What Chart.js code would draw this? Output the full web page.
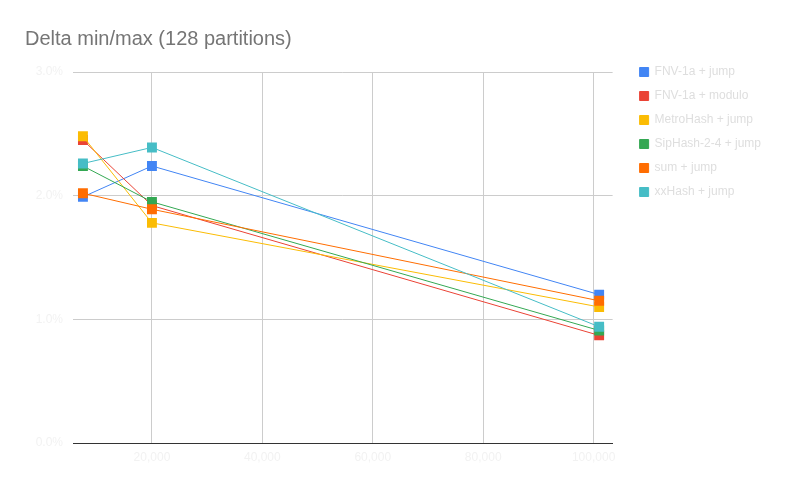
<!DOCTYPE html>
<html>
<head>
<meta charset="utf-8">
<title>Delta min/max (128 partitions)</title>
<script src="https://cdn.jsdelivr.net/npm/chart.js@4"></script>
<style>
  html, body { margin: 0; padding: 0; background: #fff; }
  #wrap { width: 790px; height: 488px; }
</style>
</head>
<body>
<div id="wrap"><canvas id="delta"></canvas></div>
<script>
const partitions = [7500, 20000, 101000];
const xTicks = [20000, 40000, 60000, 80000, 100000];
const yTicks = [0, 1, 2, 3];

const fnvJump   = [1.99, 2.24, 1.20];
const fnvModulo = [2.45, 1.92, 0.87];
const metroJump = [2.48, 1.78, 1.10];
const sipJump   = [2.24, 1.95, 0.91];
const sumJump   = [2.02, 1.89, 1.15];
const xxJump    = [2.26, 2.39, 0.94];

const seriesNames  = ['FNV-1a + jump', 'FNV-1a + modulo', 'MetroHash + jump', 'SipHash-2-4 + jump', 'sum + jump', 'xxHash + jump'];
const seriesValues = [fnvJump, fnvModulo, metroJump, sipJump, sumJump, xxJump];
const seriesColors = ['#4285f4', '#ea4335', '#fbbc04', '#34a853', '#ff6d01', '#46bdc6'];

const font = "'Liberation Sans', Arial, sans-serif";

// move the legend next to the plot like the sheets chart does
const legendShift = {
  id: 'legendShift',
  afterLayout(chart) {
    const lg = chart.legend;
    lg.left = chart.chartArea.right + 15;
    lg.top = chart.chartArea.top - 18;
    lg.right = chart.width;
    lg.bottom = chart.height;
  }
};

const datasets = seriesNames.map((name, i) => ({
  label: name,
  data: partitions.map((x, j) => ({ x: x, y: seriesValues[i][j] })),
  borderColor: seriesColors[i],
  backgroundColor: seriesColors[i],
  borderWidth: 1,
  pointStyle: 'rect',
  pointRadius: 7,
  pointBorderWidth: 0,
  order: -i
}));

new Chart(document.getElementById('delta'), {
  type: 'line',
  data: { datasets: datasets },
  options: {
    responsive: true,
    maintainAspectRatio: false,
    animation: false,
    layout: { padding: { left: 25, right: 34, top: 0, bottom: 0 } },
    plugins: {
      title: {
        display: true,
        text: 'Delta min/max (128 partitions)',
        align: 'start',
        color: '#757575',
        font: { family: font, size: 20, weight: 'normal' },
        padding: { top: 27, bottom: 21 }
      },
      legend: {
        position: 'right',
        align: 'start',
        fullSize: false,
        labels: {
          boxWidth: 9,
          boxHeight: 9,
          padding: 12,
          color: '#dedede',
          font: { family: font, size: 12 },
          sort: (a, b) => a.datasetIndex - b.datasetIndex
        }
      },
      tooltip: { enabled: false }
    },
    scales: {
      x: {
        type: 'linear',
        min: 5700,
        max: 103440,
        afterBuildTicks: s => { s.ticks = xTicks.map(v => ({ value: v })); },
        afterFit: s => { s.height = 45; },
        grid: { color: '#cccccc', drawTicks: false },
        border: { color: '#333333', width: 1 },
        ticks: {
          color: '#f2f2f2',
          padding: 7,
          maxRotation: 0,
          font: { family: font, size: 12 },
          callback: v => v.toLocaleString('en-US')
        }
      },
      y: {
        min: 0,
        max: 3,
        afterBuildTicks: s => { s.ticks = yTicks.map(v => ({ value: v })); },
        afterFit: s => { s.width = 48; },
        grid: {
          color: c => (c.tick && c.tick.value === 0 ? 'rgba(0,0,0,0)' : '#cccccc'),
          drawTicks: false
        },
        border: { display: false },
        ticks: {
          color: '#f2f2f2',
          padding: 10,
          font: { family: font, size: 12 },
          callback: v => v.toFixed(1) + '%'
        }
      }
    }
  },
  plugins: [legendShift]
});
</script>
</body>
</html>
